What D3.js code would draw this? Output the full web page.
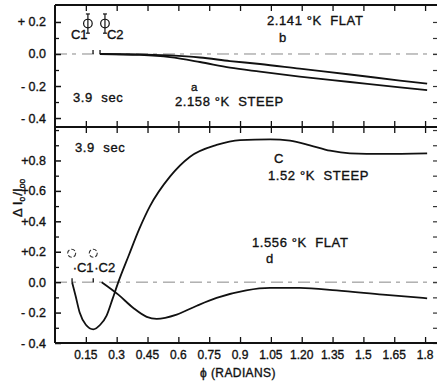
<!DOCTYPE html>
<html>
<head>
<meta charset="utf-8">
<script src="https://cdn.jsdelivr.net/npm/d3@7/dist/d3.min.js"></script>
<style>
  body { margin: 0; background: #fff; }
  svg { display: block; }
  text { font-family: "Liberation Sans", Arial, sans-serif; fill: #111; stroke: #111; stroke-width: 0.35px; }
</style>
</head>
<body>
<svg id="chart" width="440" height="381"></svg>
<script>
// ---- data ----
const phiTicks = [0.15, 0.3, 0.45, 0.6, 0.75, 0.9, 1.05, 1.2, 1.35, 1.5, 1.65, 1.8];
const phiTickLabels = ["0.15", "0.3", "0.45", "0.6", "0.75", "0.9", "1.05", "1.20", "1.35", "1.5", "1.65", "1.8"];

const topYTicks = [0.2, 0.0, -0.2, -0.4];
const topYLabels = ["+ 0.2", "0.0", "- 0.2", "- 0.4"];
const bottomYTicks = [0.8, 0.6, 0.4, 0.2, 0.0, -0.2, -0.4];
const bottomYLabels = ["+0.8", "+0.6", "+0.4", "+0.2", "0.0", "- 0.2", "- 0.4"];

// upper panel: curve a (2.158 K, steep) and curve b (2.141 K, flat)
const phiA = [0.219, 0.413, 0.559, 0.705, 0.851, 0.997, 1.19, 1.435, 1.678, 1.81];
const valA = [0.0, -0.006, -0.02, -0.05, -0.085, -0.11, -0.141, -0.175, -0.209, -0.226];
const phiB = [0.219, 0.413, 0.559, 0.705, 0.851, 0.997, 1.19, 1.435, 1.678, 1.81];
const valB = [0.0, -0.002, -0.009, -0.022, -0.044, -0.0625, -0.092, -0.128, -0.166, -0.185];

// lower panel: curve c (1.52 K, steep) and curve d (1.556 K, flat)
const phiC = [0.083, 0.1, 0.12, 0.15, 0.186, 0.22, 0.251, 0.28, 0.308, 0.36, 0.41, 0.462, 0.559, 0.657, 0.786, 0.9, 1.046, 1.143, 1.24, 1.338, 1.435, 1.595, 1.81];
const valC = [0.0, -0.09, -0.2, -0.28, -0.31, -0.28, -0.22, -0.11, 0.0, 0.18, 0.35, 0.5, 0.694, 0.825, 0.902, 0.934, 0.939, 0.93, 0.9, 0.864, 0.847, 0.843, 0.847];
const phiD = [0.227, 0.308, 0.381, 0.446, 0.495, 0.592, 0.69, 0.786, 0.93, 1.046, 1.19, 1.37, 1.595, 1.81];
const valD = [0.0, -0.082, -0.17, -0.228, -0.241, -0.213, -0.155, -0.104, -0.054, -0.038, -0.038, -0.054, -0.082, -0.106];

// C1 / C2 reference points
const refPhiTop = [0.16, 0.243];
const refValTop = [0.19, 0.19];
const refErrTop = 0.06;
const refPhiBottom = [0.081, 0.186];
const refValBottom = [0.19, 0.19];
const refNames = ["C1", "C2"];

// ---- layout ----
const svg = d3.select("#chart");
const xLeft = 55, xRight = 437;
const topPanel = { y0: 5, y1: 127 };
const botPanel = { y0: 127, y1: 343 };

const x = d3.scaleLinear().domain([0, (xRight - xLeft) / 205.6]).range([xLeft, xRight]);
const yTop = d3.scaleLinear().domain([-0.456, 0.306]).range([topPanel.y1, topPanel.y0]);
const yBot = d3.scaleLinear().domain([-0.4, 1.02]).range([botPanel.y1, botPanel.y0]);

const line = (ys) => d3.line().x(d => x(d[0])).y(d => ys(d[1])).curve(d3.curveMonotoneX);
const zip = (a, b) => a.map((v, i) => [v, b[i]]);

function panel(ys, panelBox, yTicks, yLabels) {
  const g = svg.append("g");
  // dashed zero line
  g.append("line")
    .attr("x1", xLeft).attr("x2", xRight)
    .attr("y1", ys(0)).attr("y2", ys(0))
    .attr("stroke", "#888").attr("stroke-width", 1)
    .attr("stroke-dasharray", "12,5,4,6");

  // left axis: major ticks with labels, minor ticks between
  const minor = d3.range(ys.domain()[0], ys.domain()[1], 0.1)
    .map(v => Math.round(v * 10) / 10)
    .filter(v => v >= ys.domain()[0] - 1e-9 && !yTicks.some(t => Math.abs(t - v) < 1e-6));
  const leftAxis = d3.axisLeft(ys).tickValues(yTicks).tickSize(-6)
    .tickFormat((d, i) => yLabels[i]).tickPadding(9);
  const ga = g.append("g").attr("transform", `translate(${xLeft},0)`).call(leftAxis);
  ga.select(".domain").remove();
  ga.selectAll("line").attr("stroke", "#111").attr("stroke-width", 1.5);
  ga.selectAll("text").attr("font-size", 12.5).attr("fill", "#111")
    .attr("font-family", "'Liberation Sans', Arial, sans-serif");
  const gm = g.append("g").attr("transform", `translate(${xLeft},0)`)
    .call(d3.axisLeft(ys).tickValues(minor).tickSize(-4).tickFormat(""));
  gm.select(".domain").remove();
  gm.selectAll("line").attr("stroke", "#111").attr("stroke-width", 1.3);

  // right-hand ticks
  const gr = g.append("g").attr("transform", `translate(${xRight},0)`)
    .call(d3.axisRight(ys).tickValues(yTicks.concat(minor)).tickSize(-4).tickFormat(""));
  gr.select(".domain").remove();
  gr.selectAll("line").attr("stroke", "#333").attr("stroke-width", 1.2);

  // phi ticks along the top and bottom edges, pointing inward
  const gt = g.append("g").attr("transform", `translate(0,${panelBox.y0})`)
    .call(d3.axisTop(x).tickValues(phiTicks).tickSize(-6).tickFormat(""));
  gt.select(".domain").remove();
  gt.selectAll("line").attr("stroke", "#111").attr("stroke-width", 1.3);
  const gb = g.append("g").attr("transform", `translate(0,${panelBox.y1})`)
    .call(d3.axisBottom(x).tickValues(phiTicks).tickSize(-6).tickFormat(""));
  gb.select(".domain").remove();
  gb.selectAll("line").attr("stroke", "#111").attr("stroke-width", 1.3);

  // frame: left spine and horizontal edges
  g.append("line").attr("x1", xLeft).attr("x2", xLeft)
    .attr("y1", panelBox.y0).attr("y2", panelBox.y1)
    .attr("stroke", "#111").attr("stroke-width", 2);
  [panelBox.y0, panelBox.y1].forEach(yy => {
    g.append("line").attr("x1", xLeft).attr("x2", xRight)
      .attr("y1", yy).attr("y2", yy)
      .attr("stroke", "#111").attr("stroke-width", 2);
  });
  return g;
}

const gTop = panel(yTop, topPanel, topYTicks, topYLabels);
const gBot = panel(yBot, botPanel, bottomYTicks, bottomYLabels);

// ---- curves ----
function curve(g, ys, px, pv) {
  g.append("path").datum(zip(px, pv))
    .attr("d", line(ys))
    .attr("fill", "none").attr("stroke", "#111")
    .attr("stroke-width", 1.8).attr("stroke-linejoin", "round");
}
curve(gTop, yTop, phiA, valA);
curve(gTop, yTop, phiB, valB);
curve(gBot, yBot, phiC, valC);
curve(gBot, yBot, phiD, valD);

// small marks on the zero line where the reference points sit
[[gTop, yTop, 0.185], [gTop, yTop, 0.219], [gBot, yBot, 0.083], [gBot, yBot, 0.186]].forEach(([g, ys, p]) => {
  g.append("line").attr("x1", x(p)).attr("x2", x(p))
    .attr("y1", ys(0) - 4).attr("y2", ys(0))
    .attr("stroke", "#111").attr("stroke-width", 1.3);
});

// ---- C1 / C2 reference symbols ----
refPhiTop.forEach((p, i) => {
  const cx = x(p), cy = yTop(refValTop[i]);
  gTop.append("line").attr("x1", cx).attr("x2", cx)
    .attr("y1", yTop(refValTop[i] + refErrTop)).attr("y2", yTop(refValTop[i] - refErrTop))
    .attr("stroke", "#111").attr("stroke-width", 1.2);
  [refValTop[i] + refErrTop, refValTop[i] - refErrTop].forEach(v => {
    gTop.append("line").attr("x1", cx - 2).attr("x2", cx + 2)
      .attr("y1", yTop(v)).attr("y2", yTop(v))
      .attr("stroke", "#111").attr("stroke-width", 1.2);
  });
  gTop.append("circle").attr("cx", cx).attr("cy", cy).attr("r", 4.3)
    .attr("fill", "none").attr("stroke", "#111").attr("stroke-width", 1.2);
});
gTop.append("text").attr("x", x(refPhiTop[0]) - 17).attr("y", yTop(refValTop[0]) + 15)
  .attr("font-size", 13).text(refNames[0]);
gTop.append("text").attr("x", x(refPhiTop[1]) + 2).attr("y", yTop(refValTop[1]) + 15)
  .attr("font-size", 13).text(refNames[1]);

refPhiBottom.forEach((p, i) => {
  const cx = x(p), cy = yBot(refValBottom[i]);
  gBot.append("circle").attr("cx", cx).attr("cy", cy).attr("r", 4)
    .attr("fill", "none").attr("stroke", "#333").attr("stroke-width", 1.1)
    .attr("stroke-dasharray", "4,2");
  gBot.append("text").attr("x", cx + 1).attr("y", cy + 19)
    .attr("font-size", 13).text("\u00b7" + refNames[i]);
});

// ---- annotations ----
const notes = [
  [gTop, 267, 25, "2.141 °K  FLAT", 13],
  [gTop, 279, 42, "b", 13],
  [gTop, 73, 102, "3.9  sec", 13],
  [gTop, 191, 91, "a", 11.5],
  [gTop, 175, 106, "2.158 °K  STEEP", 13],
  [gBot, 75, 152, "3.9  sec", 13],
  [gBot, 274, 163, "C", 13],
  [gBot, 268, 180, "1.52 °K  STEEP", 13],
  [gBot, 252, 247, "1.556 °K  FLAT", 13],
  [gBot, 266, 263, "d", 13]
];
notes.forEach(([g, tx, ty, s, fs]) => {
  g.append("text").attr("x", tx).attr("y", ty).attr("font-size", fs)
    .attr("letter-spacing", 0.6)
    .style("white-space", "pre").text(s);
});

// ---- x axis tick labels and titles ----
svg.append("g").selectAll("text").data(phiTicks).join("text")
  .attr("x", d => x(d)).attr("y", 359)
  .attr("text-anchor", "middle").attr("font-size", 12)
  .text((d, i) => phiTickLabels[i]);

svg.append("text").attr("x", 238).attr("y", 377)
  .attr("text-anchor", "middle").attr("font-size", 12)
  .attr("letter-spacing", 0.4)
  .text("ϕ (RADIANS)");

// vertical axis title: ΔI_o / I_oo
const yl = svg.append("text")
  .attr("transform", "translate(22,198) rotate(-90)")
  .attr("text-anchor", "middle").attr("font-size", 13.5);
yl.append("tspan").text("Δ I");
yl.append("tspan").attr("font-size", 8.5).attr("dy", 2.5).text("o");
yl.append("tspan").attr("dy", -2.5).attr("dx", 1).text("/I");
yl.append("tspan").attr("font-size", 8.5).attr("dy", 2.5).text("oo");
</script>
</body>
</html>
